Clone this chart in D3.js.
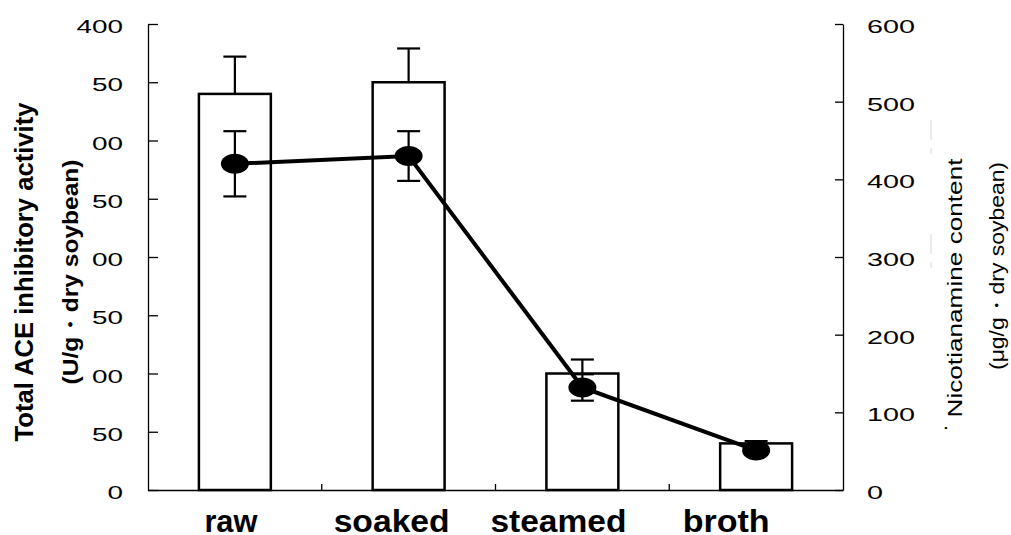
<!DOCTYPE html>
<html>
<head>
<meta charset="utf-8">
<script src="https://cdn.jsdelivr.net/npm/d3@7"></script>
<style>
  body { margin: 0; background: #fff; }
  svg { display: block; font-family: "Liberation Sans", Arial, sans-serif; }
</style>
</head>
<body>
<svg width="1011" height="535"></svg>
<script>
// Data
var categories = ["raw", "soaked", "steamed", "broth"];
var aceActivity = [340, 350, 100, 40];        // bars, left axis
var aceError = [32, 29, 12, 2];
var nicotianamine = [420, 430, 132, 51];      // line, right axis
var nicotianamineError = [42, 32, 17, 5];

var leftTicks = [0, 50, 100, 150, 200, 250, 300, 350, 400];
var leftTickLabels = ["0", "50", "00", "50", "00", "50", "00", "50", "400"];
var rightTicks = [0, 100, 200, 300, 400, 500, 600];
var rightTickLabels = ["0", "100", "200", "300", "400", "500", "600"];

var svg = d3.select("svg");
var plotLeft = 148, plotRight = 843, plotTop = 24, plotBottom = 490;

var x = d3.scaleBand().domain(categories).range([plotLeft, plotRight]).padding(0);
var yLeft = d3.scaleLinear().domain([0, 400]).range([plotBottom, plotTop]);
var yRight = d3.scaleLinear().domain([0, 600]).range([plotBottom, plotTop]);

var barWidth = x.bandwidth() * 0.414;
var capHalf = 11.5;
function cx(d) { return x(d) + x.bandwidth() / 2; }

// category labels sit a bit left of the bars in the original, and are wide
var labelShift = [-4, -17, -24, -30];
var labelWidth = [53, 116, 136, 87];

//Axes (ticks point inward, labels drawn separately)
svg.append("g").attr("transform", "translate(" + plotLeft + ",0)")
  .call(d3.axisLeft(yLeft).tickValues(leftTicks).tickSizeInner(-10).tickSizeOuter(0).tickFormat(""));
svg.append("g").attr("transform", "translate(" + plotRight + ",0)")
  .call(d3.axisRight(yRight).tickValues(rightTicks).tickSizeInner(-8).tickSizeOuter(0).tickFormat(""));
var boundaries = categories.slice(1);
var gBottom = svg.append("g").attr("transform", "translate(0," + plotBottom + ")")
  .call(d3.axisBottom(x).tickSizeOuter(0).tickSize(0).tickFormat(""));
gBottom.selectAll(".sep").data(boundaries).enter().append("line")
  .attr("class", "sep")
  .attr("x1", d => x(d)).attr("x2", d => x(d))
  .attr("y1", 0).attr("y2", -6);
svg.selectAll(".domain, .tick line, .sep").attr("stroke", "#000").attr("stroke-width", 1.3);

//Tick labels (wide digits)
svg.selectAll(".lt").data(leftTicks).enter().append("text")
  .attr("class", "lt")
  .attr("x", 123).attr("y", d => yLeft(d) + 9)
  .attr("text-anchor", "end")
  .attr("font-size", 18)
  .attr("textLength", (d, i) => leftTickLabels[i].length * 15.5)
  .attr("lengthAdjust", "spacingAndGlyphs")
  .text((d, i) => leftTickLabels[i]);

svg.selectAll(".rt").data(rightTicks).enter().append("text")
  .attr("class", "rt")
  .attr("x", 867).attr("y", d => yRight(d) + 9)
  .attr("font-size", 18)
  .attr("textLength", (d, i) => rightTickLabels[i].length * 16)
  .attr("lengthAdjust", "spacingAndGlyphs")
  .text((d, i) => rightTickLabels[i]);

//Category labels
svg.selectAll(".cat").data(categories).enter().append("text")
  .attr("class", "cat")
  .attr("x", (d, i) => cx(d) + labelShift[i]).attr("y", 532)
  .attr("text-anchor", "middle")
  .attr("font-size", 32).attr("font-weight", "bold")
  .attr("textLength", (d, i) => labelWidth[i])
  .attr("lengthAdjust", "spacingAndGlyphs")
  .text(d => d);

//Bars
svg.selectAll(".bar").data(categories).enter().append("rect")
  .attr("class", "bar")
  .attr("x", d => cx(d) - barWidth / 2)
  .attr("width", barWidth)
  .attr("y", (d, i) => yLeft(aceActivity[i]))
  .attr("height", (d, i) => plotBottom - yLeft(aceActivity[i]))
  .attr("fill", "#fff").attr("stroke", "#000").attr("stroke-width", 2.5);

//Bar error bars (upper only)
var barErr = svg.selectAll(".berr").data(categories).enter().append("g").attr("class", "berr");
barErr.append("line")
  .attr("x1", d => cx(d)).attr("x2", d => cx(d))
  .attr("y1", (d, i) => yLeft(aceActivity[i]))
  .attr("y2", (d, i) => yLeft(aceActivity[i] + aceError[i]));
barErr.append("line")
  .attr("x1", d => cx(d) - capHalf).attr("x2", d => cx(d) + capHalf)
  .attr("y1", (d, i) => yLeft(aceActivity[i] + aceError[i]))
  .attr("y2", (d, i) => yLeft(aceActivity[i] + aceError[i]));
barErr.selectAll("line").attr("stroke", "#000").attr("stroke-width", 2.2);

//Line error bars
var lineErr = svg.selectAll(".lerr").data(categories).enter().append("g").attr("class", "lerr");
lineErr.append("line")
  .attr("x1", d => cx(d)).attr("x2", d => cx(d))
  .attr("y1", (d, i) => yRight(nicotianamine[i] - nicotianamineError[i]))
  .attr("y2", (d, i) => yRight(nicotianamine[i] + nicotianamineError[i]));
[1, -1].forEach(function(s) {
  lineErr.append("line")
    .attr("x1", d => cx(d) - capHalf).attr("x2", d => cx(d) + capHalf)
    .attr("y1", (d, i) => yRight(nicotianamine[i] + s * nicotianamineError[i]))
    .attr("y2", (d, i) => yRight(nicotianamine[i] + s * nicotianamineError[i]));
});
lineErr.selectAll("line").attr("stroke", "#000").attr("stroke-width", 2.2);

//Line + markers
var line = d3.line()
  .x((d, i) => cx(categories[i]))
  .y(d => yRight(d));
svg.append("path").datum(nicotianamine)
  .attr("d", line)
  .attr("fill", "none").attr("stroke", "#000").attr("stroke-width", 4);
svg.selectAll(".dot").data(nicotianamine).enter().append("ellipse")
  .attr("class", "dot")
  .attr("cx", (d, i) => cx(categories[i]))
  .attr("cy", d => yRight(d))
  .attr("rx", 14).attr("ry", 10).attr("fill", "#000");

//Axis titles
var leftTitle = svg.append("g");
leftTitle.append("text")
  .attr("transform", "translate(33,272) rotate(-90)")
  .attr("text-anchor", "middle").attr("font-size", 25).attr("font-weight", "bold")
  .attr("textLength", 339).attr("lengthAdjust", "spacingAndGlyphs")
  .text("Total ACE inhibitory  activity");
leftTitle.append("text")
  .attr("transform", "translate(78,272) rotate(-90)")
  .attr("text-anchor", "middle").attr("font-size", 22).attr("font-weight", "bold")
  .attr("textLength", 225).attr("lengthAdjust", "spacingAndGlyphs")
  .text("(U/g・dry soybean)");

//faint artefact line next to right title
svg.append("line")
  .attr("x1", 931).attr("x2", 931).attr("y1", 120).attr("y2", 288)
  .attr("stroke", "#d8d8d8").attr("stroke-width", 1).attr("stroke-dasharray", "20,8,6,80");

var rightTitle = svg.append("g");
rightTitle.append("text")
  .attr("transform", "translate(962,288) rotate(-90)")
  .attr("text-anchor", "middle").attr("font-size", 21)
  .attr("textLength", 259).attr("lengthAdjust", "spacingAndGlyphs")
  .text("Nicotianamine content");
rightTitle.append("text")
  .attr("transform", "translate(947,428) rotate(-90)")
  .attr("text-anchor", "middle").attr("font-size", 21)
  .text(".");
rightTitle.append("text")
  .attr("transform", "translate(1004,266) rotate(-90)")
  .attr("text-anchor", "middle").attr("font-size", 21)
  .attr("textLength", 208).attr("lengthAdjust", "spacingAndGlyphs")
  .text("(μg/g・dry soybean)");
</script>
</body>
</html>
